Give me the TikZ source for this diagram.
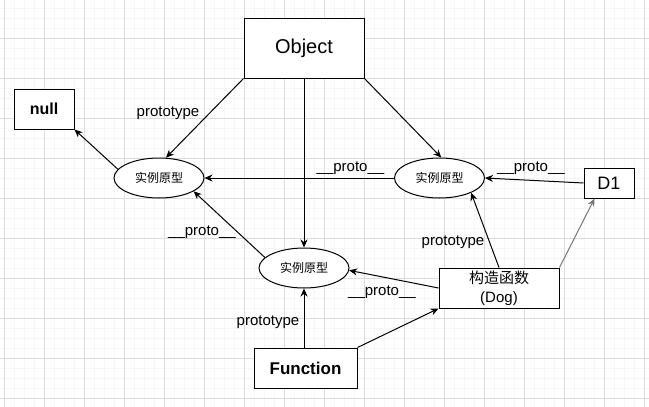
\documentclass[tikz,border=0pt]{standalone}
\usepackage{fontspec}
\setmainfont{Liberation Sans}
\newfontfamily\cjk{Noto Sans CJK SC}
\usetikzlibrary{arrows.meta,shapes.geometric}
\definecolor{gridmajor}{RGB}{220,220,220}
\definecolor{gridminor}{RGB}{246,246,246}
\definecolor{softgray}{RGB}{120,120,120}
\begin{document}
\begin{tikzpicture}[x=1pt,y=-1pt,
  box/.style={draw, line width=1pt, fill=white, inner sep=0pt},
  oval/.style={ellipse, draw, line width=1pt, fill=white, minimum width=90pt, minimum height=40pt, inner sep=0pt, font=\cjk\fontsize{12}{14}\selectfont},
  link/.style={line width=1pt, -{Stealth[length=8pt,width=7pt]}},
  lbl/.style={font=\fontsize{15}{18}\selectfont, inner sep=0pt, anchor=base}
]
\useasboundingbox (0,0) rectangle (649,407);
\fill[white] (0,0) rectangle (649,407);
% background grid
\foreach \x in {4,14,...,644} \draw[gridminor, line width=1pt] (\x,0) -- (\x,407);
\foreach \y in {8,18,...,398} \draw[gridminor, line width=1pt] (0,\y) -- (649,\y);
\foreach \x in {4,44,...,644} \draw[gridmajor, line width=1pt] (\x,0) -- (\x,407);
\foreach \y in {38,78,...,398} \draw[gridmajor, line width=1pt] (0,\y) -- (649,\y);

% nodes
\node[box, minimum width=120pt, minimum height=60pt, font=\fontsize{20}{24}\selectfont] (obj) at (304,48) {Object};
\node[box, minimum width=60pt, minimum height=40pt, font=\bfseries\fontsize{16}{19}\selectfont] (null) at (44,109) {null};
\node[box, minimum width=50pt, minimum height=30pt, font=\fontsize{18}{21}\selectfont] (d1) at (609,183) {D1};
\node[box, minimum width=103pt, minimum height=40pt, font=\bfseries\fontsize{17}{20}\selectfont] (fn) at (305.5,368) {Function};
\node[box, minimum width=120pt, minimum height=40pt, align=center, font=\fontsize{15}{19}\selectfont] (dog) at (499,288) {{\cjk 构造函数}\\(Dog)};
\node[oval] (L) at (159,178) {实例原型};
\node[oval] (R) at (439.5,178) {实例原型};
\node[oval] (M) at (304,268) {实例原型};

% connectors
\draw[link] (obj.south west) -- (L.71);
\draw[link] (obj.south) -- (M.north);
\draw[link] (obj.south east) -- (R.85);
\draw[link] (L.168) -- (null.south east);
\draw[link] (R.west) -- (L.east);
\draw[link] (d1.west) -- (R.east);
\draw[link] (M.165) -- (L.-21);
\draw[link] (dog.west) -- (M.-3);
\draw[link] (M.south |- fn.north) -- (M.south);
\draw[link] (fn.north east) -- (dog.south west);
\draw[link] (dog.north) -- (R.-25);
\draw[link, softgray] (dog.north east) -- (d1.227);

% labels
\node[lbl] (t1) at (168,116) {prototype};
\node[lbl] (t2) at (350.5,171) {\_\_proto\_\_};
\node[lbl] (t3) at (531,171) {\_\_proto\_\_};
\node[lbl] (t4) at (202,235) {\_\_proto\_\_};
\node[lbl] (t5) at (382,295) {\_\_proto\_\_};
\node[lbl] (t6) at (268,325) {prototype};
\node[lbl] (t7) at (453,245) {prototype};
\end{tikzpicture}
\end{document}
